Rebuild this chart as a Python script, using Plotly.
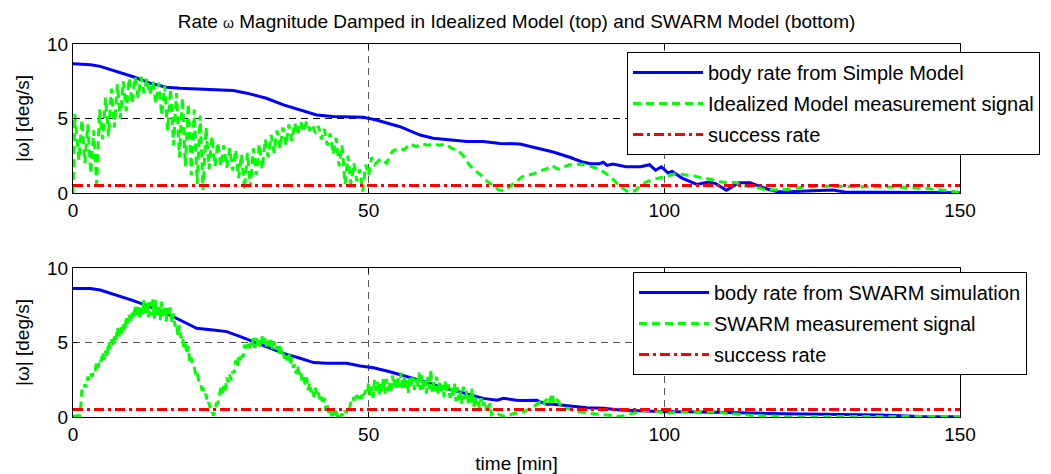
import numpy as np
import plotly.graph_objects as go

# ---------------- data: top panel (Idealized / Simple Model) ----------------
top_body_t = [0, 2, 3, 4.6, 7.4, 10.2, 13.0, 15.8, 18.1, 21.5, 27.1, 29.4, 32.7, 35.6, 38.4,
              41.2, 44.0, 49.1, 51.3, 55.3, 58.7, 60.9, 66.6, 69.4, 72.2, 75.6, 77.5, 81.2,
              84, 86, 87.5, 89, 89.7, 90.3, 91.3, 93.5, 96, 97.5, 98.5, 99.5, 100.6, 101.3,
              103, 105.5, 107.5, 108.7, 110.5, 111.5, 112.6, 114.5, 116.5, 117.5, 119, 120.5,
              124, 128.5, 130.5, 140, 150]
top_body_v = [8.68, 8.65, 8.6, 8.5, 8.15, 7.8, 7.37, 7.1, 7.03, 6.97, 6.88, 6.7, 6.36, 5.91, 5.58,
              5.24, 5.13, 5.08, 4.9, 4.45, 3.89, 3.67, 3.45, 3.45, 3.33, 3.29, 3.1, 2.75,
              2.4, 2.1, 1.97, 1.97, 2.06, 1.85, 1.95, 1.76, 1.76, 1.9, 1.53, 1.75, 1.35, 1.45,
              1.0, 0.58, 0.74, 0.63, 0.18, 0.41, 0.68, 0.68, 0.4, 0.25, 0.1, 0.07,
              0.14, 0.2, 0.07, 0.04, 0.02]

# measurement signal: start, fast oscillating part sampled every 0.5 min, then slower part
top_meas_start_t = [0.0, 0.3]
top_meas_start_v = [0.0, 5.3]
top_meas_osc_t0, top_meas_osc_dt = 1.0, 0.5
top_meas_osc_v = [2.2, 4.9, 2.0, 4.6, 1.3, 4.2, 0.6, 5.6, 3.6, 6.4,
                  3.8, 7.0, 4.4, 7.3, 5.0, 7.5, 5.5, 7.7, 6.0, 7.8,
                  6.4, 7.8, 6.7, 7.7, 6.6, 7.5, 6.0, 7.4, 5.2, 7.2,
                  4.2, 7.0, 3.2, 6.7, 2.4, 6.4, 1.8, 6.0, 1.2, 5.6,
                  0.6, 5.2, 0.2, 4.4, 1.6, 3.8, 1.8, 3.4, 1.8, 3.2,
                  1.7, 3.0, 1.5, 2.9, 1.0, 2.6, 0.2, 2.7, 0.4, 3.0,
                  1.2, 3.3, 1.6, 3.6, 2.4, 3.9, 2.7, 4.2, 3.0, 4.4,
                  3.2, 4.6, 3.5, 4.7, 3.9, 4.8, 4.1, 4.8, 4.2, 4.6,
                  4.0, 4.5, 3.6, 4.3, 3.2, 4.0, 2.6, 3.7, 1.8, 3.2,
                  0.6, 2.5, 0.6, 2.0, 0.8, 1.6, 0.1, 1.9, 1.2, 2.4]
top_meas_tail_t = [51, 52, 53, 54, 55, 56, 57, 58, 59, 60, 61, 62, 63, 64, 65, 66, 67, 68, 69, 70,
                   71, 72, 73, 74, 75, 76, 77, 78, 79, 80, 81, 82, 83, 84, 85, 86, 87, 88, 89, 90,
                   91, 92, 93, 94, 95, 96, 97, 98, 99, 100, 101, 102, 103, 104, 105, 106, 107, 108,
                   109, 110, 111, 112, 113, 114, 115, 116, 117, 118, 119, 120, 122, 124, 127, 130,
                   133, 136, 139, 142, 145, 148, 150]
top_meas_tail_v = [1.9, 2.3, 2.0, 2.8, 3.0, 2.9, 3.3, 3.1, 3.3, 3.2, 3.3, 3.2, 3.3, 3.0, 2.9, 2.5,
                   1.9, 1.5, 1.2, 0.8, 0.5, 0.2, 0.15, 0.5, 0.8, 1.1, 1.2, 1.3, 1.5, 1.6, 1.85, 1.6,
                   1.75, 1.9, 1.9, 1.95, 1.85, 1.75, 1.6, 1.35, 1.05, 0.65, 0.3, 0.05, 0.15, 0.5,
                   0.75, 0.9, 1.0, 1.1, 1.25, 1.3, 1.25, 1.2, 1.15, 1.05, 1.0, 0.9, 0.8, 0.72, 0.7,
                   0.7, 0.55, 0.45, 0.45, 0.35, 0.22, 0.2, 0.2, 0.22, 0.3, 0.42, 0.45, 0.45, 0.45,
                   0.43, 0.4, 0.35, 0.28, 0.15, 0.02]

# ---------------- data: bottom panel (SWARM) ----------------
bot_body_t = [0, 2.9, 4.6, 7.4, 10.2, 13.0, 15.8, 19.2, 20.9, 23.7, 26.0, 28.3, 30.5, 32.8, 35.6,
              38.4, 40.7, 42.9, 46.3, 48.6, 50.8, 53.6, 55.8, 58.7, 61.5, 64.3, 67.1, 69.4,
              71.7, 72.8, 75.0, 76.2, 78.4, 80.1, 81.2, 84.1, 86.9, 89.7, 92.5, 100.4, 103.9,
              117.3, 136.5, 143.3, 150]
bot_body_v = [8.63, 8.63, 8.52, 8.19, 7.81, 7.41, 6.96, 6.29, 5.95, 5.84, 5.73, 5.39, 5.06, 4.72,
              4.27, 3.94, 3.65, 3.60, 3.6, 3.42, 3.3, 3.04, 2.8, 2.45, 2.1, 1.81, 1.47, 1.25,
              1.13, 1.25, 1.13, 1.1, 1.13, 0.85, 0.85, 0.75, 0.62, 0.58, 0.47, 0.35, 0.35,
              0.24, 0.13, 0.04, 0.02]

bot_meas_start_t = [0.0, 0.6, 1.2]
bot_meas_start_v = [0.05, 0.05, 0.1]
bot_meas_noisy_t0, bot_meas_noisy_dt = 1.5, 0.25
bot_meas_noisy_v = [
    1.8, 1.7, 2.2, 2.0, 2.7, 2.5, 2.9, 2.7, 3.2, 3.1, 3.7, 3.3, 3.9, 3.7,
    4.35, 3.85, 4.45, 4.0, 5.05, 4.6, 5.2, 4.7, 5.4, 5.1, 6.0, 5.25,
    6.15, 5.62, 6.2, 5.73, 6.75, 6.27, 6.85, 6.33, 7.0, 6.65, 7.5, 6.7,
    7.55, 6.6, 7.45, 6.9, 7.85, 6.8, 7.75, 6.7, 7.7, 6.8, 7.9, 6.6,
    7.85, 6.7, 7.55, 6.5, 7.75, 6.6, 7.5, 6.4, 7.3, 6.73, 7.35, 6.32,
    6.95, 6.08, 6.3, 5.47, 6.15, 5.3, 5.5, 4.6, 4.9, 4.23, 4.75, 3.62,
    3.98, 3.4, 3.38, 2.83, 3.02, 2.47, 2.45, 1.87, 1.9, 1.43, 1.55, 0.85,
    0.98, 0.42, 0.41, 0.08, 0.35, 0.9, 0.93, 1.5,
    1.98, 1.61, 2.12, 1.79, 2.66, 2.33, 2.84, 2.47, 3.06, 2.95, 3.8, 3.33,
    4.18, 3.81, 4.32, 3.99, 4.86, 4.46, 4.89, 4.44, 4.96, 4.65, 5.3, 4.63,
    5.28, 4.77, 5.15, 4.68, 5.41, 4.92, 5.27, 4.73, 5.16, 4.75, 5.3, 4.53,
    5.08, 4.48, 4.77, 4.22, 4.86, 4.28, 4.54, 3.92, 4.26, 3.8, 4.3, 3.48,
    3.98, 3.31, 3.52, 2.89, 3.46, 2.83, 3.04, 2.37, 2.66, 2.18, 2.65, 1.8,
    2.28, 1.66, 1.92, 1.34, 1.96, 1.38, 1.64, 1.02, 1.36, 0.85, 1.3, 0.43,
    0.88, 0.26, 0.52, 0.05, 0.56, 0.06, 0.39, 0.02,
    0.28, 0.02, 0.23, 0.02, 0.42, 0.29, 0.7, 0.54, 1.0, 0.88, 1.35, 1.0,
    1.48, 1.2, 1.48, 1.23, 1.72, 1.5, 1.8, 1.54,
    2.26, 1.44, 2.05, 1.29, 2.49, 1.72, 2.34, 1.52, 2.26, 1.69, 2.7, 1.56,
    2.56, 1.73, 2.35, 1.59, 2.79, 2.04, 2.67, 1.85, 2.61, 2.01, 2.98, 1.79,
    2.76, 1.89, 2.45, 1.63, 2.79, 2.02, 2.64, 1.82, 2.56, 1.98, 2.98, 1.82,
    2.81, 1.9, 2.42, 1.57, 2.69, 1.9, 3.2, 1.64, 2.36, 1.75, 2.7, 1.5,
    2.46, 1.59, 2.15, 1.33, 2.49, 1.65, 2.19, 1.29, 1.96, 1.33, 2.27, 1.07,
    2.01, 1.13, 1.7, 0.89, 2.04, 1.22, 1.79, 0.92, 1.61, 0.97, 1.9, 0.68,
    1.43, 0.85, 1.15, 0.6, 1.26, 0.7, 0.99, 0.4, 0.76, 0.36, 0.92, 0.17]
bot_meas_tail_t = [71.5, 72.2, 73.3, 74.5, 76.2, 77.9, 79.0, 79.5, 80.1, 80.5, 81.0, 81.3, 81.7,
                   82.4, 83.5, 85.2, 86.9, 89.2, 92.5, 94.8, 97.1, 99.0, 100.4, 103.9, 107.2,
                   110.6, 115.1, 120.7, 132, 150]
bot_meas_tail_v = [0.35, 0.13, 0.02, 0.24, 0.35, 0.69, 1.02, 0.8, 1.2, 0.85, 1.6, 1.0, 1.3,
                   0.8, 0.58, 0.4, 0.26, 0.18, 0.04, 0.26, 0.45, 0.35, 0.26, 0.37, 0.37,
                   0.26, 0.09, 0.04, 0.04, 0.04]

success_t = [0, 150]
success_v = [0.5, 0.5]

x_ticks = [0, 50, 100, 150]
y_ticks = [0, 5, 10]

top_names = ["body rate from Simple Model", "Idealized Model measurement signal", "success rate"]
bot_names = ["body rate from SWARM simulation", "SWARM measurement signal", "success rate"]

# ---------------- assemble ----------------
top_osc_t = list(top_meas_osc_t0 + top_meas_osc_dt * np.arange(len(top_meas_osc_v)))
top_meas_t = top_meas_start_t + top_osc_t + top_meas_tail_t
top_meas_v = top_meas_start_v + top_meas_osc_v + top_meas_tail_v

bot_noisy_t = list(bot_meas_noisy_t0 + bot_meas_noisy_dt * np.arange(len(bot_meas_noisy_v)))
bot_meas_t = bot_meas_start_t + bot_noisy_t + bot_meas_tail_t
bot_meas_v = bot_meas_start_v + bot_meas_noisy_v + bot_meas_tail_v

BLUE, GREEN, RED = "#0000FF", "#00FF00", "#FF0000"
FONT = "Liberation Sans, Arial, sans-serif"

fig = go.Figure()

def add_panel(xa, ya, leg, names, body_t, body_v, meas_t, meas_v):
    fig.add_trace(go.Scatter(x=body_t, y=body_v, mode="lines", name=names[0],
                             line=dict(color=BLUE, width=3), xaxis=xa, yaxis=ya,
                             legend=leg, legendgroup=leg + "a"))
    fig.add_trace(go.Scatter(x=meas_t, y=meas_v, mode="lines", name=names[1],
                             line=dict(color=GREEN, width=3, dash="8px,5px"), xaxis=xa, yaxis=ya,
                             legend=leg, legendgroup=leg + "b"))
    fig.add_trace(go.Scatter(x=success_t, y=success_v, mode="lines", name=names[2],
                             line=dict(color=RED, width=3, dash="10px,4px,3px,4px"), xaxis=xa, yaxis=ya,
                             legend=leg, legendgroup=leg + "c"))

add_panel("x", "y", "legend", top_names, top_body_t, top_body_v, top_meas_t, top_meas_v)
add_panel("x2", "y2", "legend2", bot_names, bot_body_t, bot_body_v, bot_meas_t, bot_meas_v)

def xax(anchor, gridc, title=None):
    d = dict(range=[0, 150], tickvals=x_ticks, ticks="inside", ticklen=5, tickcolor="black",
             showline=True, linecolor="black", linewidth=1, mirror="ticks",
             showgrid=True, gridcolor=gridc, griddash="7px,5px", gridwidth=1,
             zeroline=False, anchor=anchor, domain=[0, 1], automargin=False,
             tickfont=dict(size=19, color="black", family=FONT))
    if title:
        d["title"] = dict(text=title, font=dict(size=19, color="black", family=FONT), standoff=13)
    return d

def yax(anchor, dom, gridc):
    return dict(range=[0, 10], tickvals=y_ticks, ticks="inside", ticklen=5, tickcolor="black",
                showline=True, linecolor="black", linewidth=1, mirror="ticks",
                showgrid=True, gridcolor=gridc, griddash="7px,5px", gridwidth=1,
                zeroline=False, anchor=anchor, domain=dom, automargin=False,
                tickfont=dict(size=19, color="black", family=FONT),
                title=dict(text="|ω| [deg/s]", font=dict(size=19, color="black", family=FONT),
                           standoff=12))

H = 474
ml, mr, mt, mb = 73, 91, 44, 57
ph = H - mt - mb
pw = 1051 - ml - mr

def py(pix):
    return (H - mb - pix) / ph

def px(pix):
    return (pix - ml) / pw

legend_common = dict(xanchor="left", yanchor="top", bgcolor="white", bordercolor="black",
                     borderwidth=1, font=dict(size=20, color="black", family=FONT),
                     itemwidth=70, tracegroupgap=2)

fig.update_layout(
    width=1051, height=474,
    margin=dict(l=ml, r=mr, t=mt, b=mb, autoexpand=False),
    paper_bgcolor="white", plot_bgcolor="white",
    font=dict(family=FONT, color="black"),
    title=dict(text='Rate <span style="font-size:14px">ω</span> Magnitude Damped in Idealized Model (top) and SWARM Model (bottom)',
               x=0.5, xref="paper", y=1 - 21 / H, yref="container", yanchor="middle", xanchor="center",
               font=dict(size=19, color="black", family=FONT)),
    xaxis=xax("y", "#555555"),
    yaxis=yax("x", [py(193), 1], "#000000"),
    xaxis2=xax("y2", "#555555", "time [min]"),
    yaxis2=yax("x2", [0, py(268)], "#555555"),
    legend=dict(x=px(627), y=py(52), **legend_common),
    legend2=dict(x=px(633), y=py(272), **legend_common),
    showlegend=True,
)

fig.write_html("out.html")
